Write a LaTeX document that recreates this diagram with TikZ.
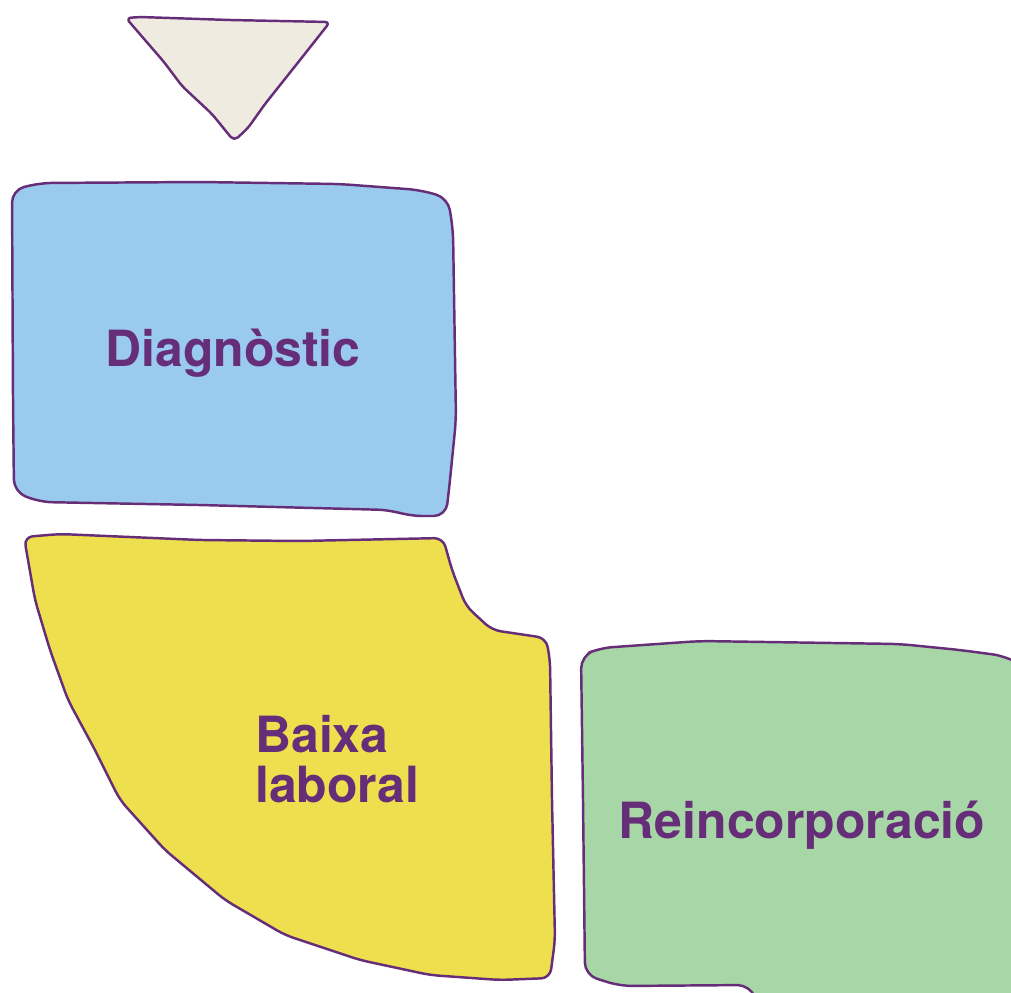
\documentclass[tikz,border=0pt]{standalone}
\usepackage{fontspec}
\setmainfont{TeX Gyre Heros}
\usepackage{tikz}

\definecolor{plum}{HTML}{662D78}
\definecolor{diagblue}{HTML}{9ACAED}
\definecolor{baixayellow}{HTML}{EEDF4F}
\definecolor{reincgreen}{HTML}{A7D7A6}
\definecolor{startbeige}{HTML}{EFEBE1}

\begin{document}
\begin{tikzpicture}[x=0.02cm, y=-0.02cm, line join=round,
    blob/.style={draw=plum, line width=1.4pt, rounded corners=7pt},
    label/.style={text=plum, inner sep=0pt, font=\bfseries\fontsize{28.4}{28.4}\selectfont}]
    \useasboundingbox (0,0) rectangle (1011,992);
    \clip (0,0) rectangle (1011,992);

    % start marker
    \draw[blob, fill=startbeige, rounded corners=3pt]
        (126,18) -- (140,17) -- (230,20) -- (330,22) -- (300,60) -- (265,104)
        -- (248,128) -- (234,141) -- (212,114) -- (182,86) -- (164,62) -- cycle;

    % phases
    \draw[blob, fill=diagblue]
        (12,190) -- (40,183) -- (200,182) -- (340,184) -- (420,190) -- (448,198)
        -- (453,230) -- (456,420) -- (450,480) -- (446,516) -- (410,516)
        -- (390,510) -- (200,505) -- (40,502) -- (14,492) -- (13,400) -- cycle;

    \draw[blob, fill=baixayellow, rounded corners=5pt]
        (24,537) -- (60,534) -- (200,540) -- (300,541) -- (443,538)
        -- (452,570) -- (466,606) -- (492,630) -- (546,638) -- (550,660)
        -- (552,800) -- (555,940) -- (550,978) -- (500,980) -- (430,975)
        -- (360,960) -- (285,935) -- (225,900) -- (165,850) -- (120,800)
        -- (95,750) -- (68,700) -- (50,650) -- (35,600) -- cycle;

    \draw[blob, fill=reincgreen]
        (581,656) -- (600,648) -- (700,641) -- (900,644) -- (960,650)
        -- (1005,656) -- (1030,670) -- (1030,1010) -- (760,1010) -- (750,985)
        -- (620,986) -- (585,975) -- (583,800) -- cycle;

    \node[label, anchor=base] (diag) at (233,366) {Diagnòstic};
    \node[label, anchor=base west, align=left] (baixa) at (255,802) {Baixa\\laboral};
    \node[label, anchor=base] (reinc) at (802,838) {Reincorporació};
\end{tikzpicture}
\end{document}
